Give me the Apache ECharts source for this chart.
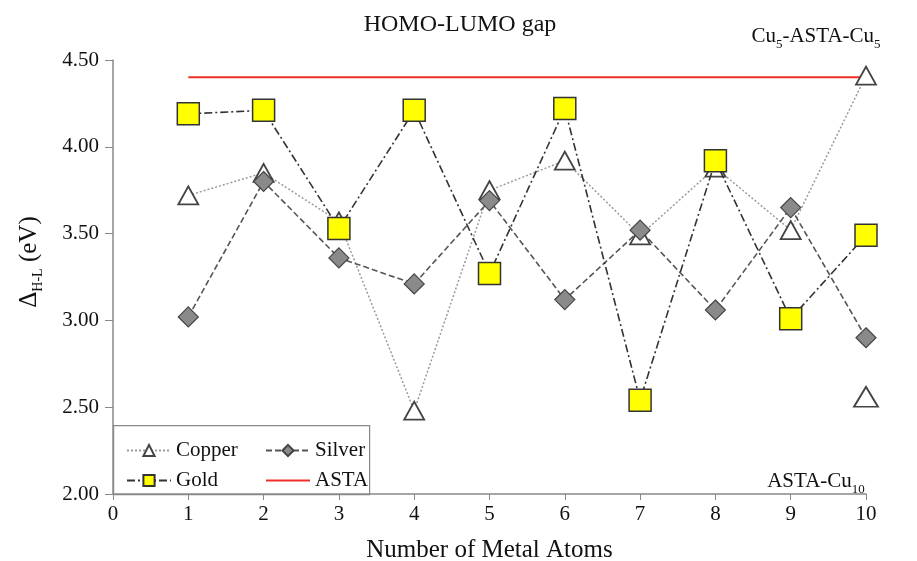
<!DOCTYPE html>
<html>
<head>
<meta charset="utf-8">
<script src="https://cdn.jsdelivr.net/npm/echarts@6/dist/echarts.min.js"></script>
<style>html,body{margin:0;padding:0;background:#fff}#c{width:917px;height:561px}</style>
</head>
<body>
<div id="c"></div>
<script>
var atoms = [1, 2, 3, 4, 5, 6, 7, 8, 9, 10];
var copper = [3.72, 3.85, 3.57, 2.48, 3.75, 3.92, 3.49, 3.88, 3.52, 4.41];
var silver = [3.02, 3.80, 3.36, 3.21, 3.69, 3.12, 3.52, 3.06, 3.65, 2.90];
var gold = [4.19, 4.21, 3.53, 4.21, 3.27, 4.22, 2.54, 3.92, 3.01, 3.49];
var asta = [4.40, 4.40];
var astaX = [1, 10];
var astaCu10 = [[10, 2.56]];
var yTicks = ['2.00', '2.50', '3.00', '3.50', '4.00', '4.50'];

var FONT = "'Liberation Serif','Times New Roman',serif";
function pairs(xs, ys) { return xs.map(function (x, i) { return [x, ys[i]]; }); }

var subRich = {
  m: { fontFamily: FONT, fontSize: 21, color: '#111', lineHeight: 28, verticalAlign: 'middle' },
  s: { fontFamily: FONT, fontSize: 13, color: '#111', lineHeight: 12, verticalAlign: 'bottom' }
};

var copperData = pairs(atoms, copper);
copperData[9] = {
  value: copperData[9],
  label: {
    show: true, position: 'top', offset: [-50, -10], color: '#111',
    formatter: '{m|Cu}{s|5}{m|-ASTA-Cu}{s|5}',
    rich: subRich
  }
};

var chart = echarts.init(document.getElementById('c'));
chart.setOption({
  animation: false,
  backgroundColor: '#fff',
  title: {
    text: 'HOMO-LUMO gap', left: 455, textAlign: 'center', top: 8,
    textStyle: { fontFamily: FONT, fontSize: 24, fontWeight: 'normal', color: '#111' }
  },
  grid: { left: 113, right: 51, top: 60, bottom: 67, containLabel: false, outerBoundsMode: 'none' },
  xAxis: {
    type: 'value', min: 0, max: 10, interval: 1,
    name: 'Number of Metal Atoms', nameLocation: 'middle', nameGap: 44,
    nameTextStyle: { fontFamily: FONT, fontSize: 25, color: '#111' },
    axisLine: { lineStyle: { color: '#888', width: 1.5 } },
    axisTick: { show: true, inside: false, length: 6, lineStyle: { color: '#888' } },
    axisLabel: { fontFamily: FONT, fontSize: 21, color: '#111', margin: 10 },
    splitLine: { show: false }
  },
  yAxis: {
    type: 'value', min: 2, max: 4.5, interval: 0.5,
    name: '{m|Δ}{s|H-L}{m| (eV)}', nameLocation: 'middle', nameGap: 68, nameRotate: 90,
    nameTextStyle: {
      padding: [0, 0, 0, 30],
      rich: {
        m: { fontFamily: FONT, fontSize: 25, color: '#111', lineHeight: 32, verticalAlign: 'middle' },
        s: { fontFamily: FONT, fontSize: 14, color: '#111', lineHeight: 13, verticalAlign: 'bottom' }
      }
    },
    axisLine: { show: true, lineStyle: { color: '#888', width: 1.5 } },
    axisTick: { show: true, inside: false, length: 8, lineStyle: { color: '#888' } },
    axisLabel: {
      fontFamily: FONT, fontSize: 21, color: '#111', margin: 14,
      formatter: function (v) { var i = Math.round((v - 2) / 0.5); return yTicks[i] !== undefined ? yTicks[i] : v.toFixed(2); }
    },
    splitLine: { show: false }
  },
  legend: [
    {
      data: ['Copper', 'Gold'], orient: 'vertical', left: 121, top: 435, itemGap: 9,
      itemWidth: 44, itemHeight: 14,
      textStyle: { fontFamily: FONT, fontSize: 21, color: '#111' }
    },
    {
      data: ['Silver', {
        name: 'ASTA', icon: 'path://M0,0 L60,0 L60,3 L0,3 Z',
        itemStyle: { color: '#f03028' }
      }], orient: 'vertical', left: 260, top: 435, itemGap: 9,
      itemWidth: 44, itemHeight: 14,
      textStyle: { fontFamily: FONT, fontSize: 21, color: '#111' }
    }
  ],
  graphic: [
    {
      type: 'rect', left: 113, top: 425, z: 0,
      shape: { width: 256, height: 69 },
      style: { fill: '#fff', stroke: '#888', lineWidth: 1.2 }
    }
  ],
  series: [
    {
      name: 'ASTA', type: 'line', data: pairs(astaX, asta), symbol: 'none', z: 2,
      lineStyle: { color: '#f03028', width: 2 }, itemStyle: { color: '#f03028' }
    },
    {
      name: 'Copper', type: 'line', data: copperData, symbol: 'triangle', symbolSize: [20, 18], z: 3,
      lineStyle: { color: '#9a9a9a', width: 1.5, type: [2, 2] },
      itemStyle: { color: '#fff', borderColor: '#444', borderWidth: 1.8 }
    },
    {
      name: 'Silver', type: 'line', data: pairs(atoms, silver), symbol: 'diamond', symbolSize: [20, 20], z: 4,
      lineStyle: { color: '#555', width: 1.6, type: [6, 3] },
      itemStyle: { color: '#8a8a8a', borderColor: '#444', borderWidth: 1.2 }
    },
    {
      name: 'Gold', type: 'line', data: pairs(atoms, gold), symbol: 'rect', symbolSize: [22, 22], z: 5,
      lineStyle: { color: '#333', width: 1.6, type: [8, 3, 2, 3] },
      itemStyle: { color: '#ffff00', borderColor: '#333', borderWidth: 1.5 }
    },
    {
      name: 'ASTA-Cu10', type: 'scatter', data: astaCu10, symbol: 'triangle', symbolSize: [24, 20], z: 3,
      itemStyle: { color: '#fff', borderColor: '#444', borderWidth: 1.8, opacity: 1 },
      label: {
        show: true, position: 'bottom', offset: [-50, 55], color: '#111',
        formatter: '{m|ASTA-Cu}{s|10}',
        rich: subRich
      }
    }
  ]
});
</script>
</body>
</html>
